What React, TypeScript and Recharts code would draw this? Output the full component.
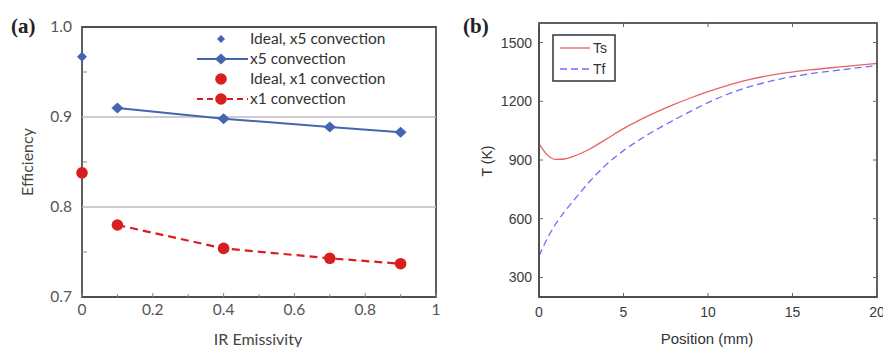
import React from "react";
import {
  ScatterChart,
  Scatter,
  LineChart,
  Line,
  XAxis,
  YAxis,
  ReferenceLine,
  ReferenceArea,
} from "recharts";

// panel (a): efficiency vs IR emissivity
const emissivity = [0.1, 0.4, 0.7, 0.9];
const effX5 = [0.91, 0.898, 0.889, 0.883];
const effX1 = [0.78, 0.754, 0.743, 0.737];
const idealEmissivity = [0];
const idealX5 = [0.967];
const idealX1 = [0.838];
const emissivityTicks = [0, 0.1, 0.2, 0.3, 0.4, 0.5, 0.6, 0.7, 0.8, 0.9, 1];
const emissivityLabels = [0, 0.2, 0.4, 0.6, 0.8, 1];
const efficiencyTicks = [0.7, 0.75, 0.8, 0.85, 0.9, 0.95, 1.0];
const efficiencyLabels = [0.7, 0.8, 0.9, 1.0];
const efficiencyGrid = [0.8, 0.9];

// panel (b): temperature profiles
const position = [0, 0.5, 1, 1.5, 2, 3, 4, 5, 6, 7, 8, 9, 10, 12, 14, 16, 18, 20];
const ts = [982, 925, 903, 905, 917, 956, 1008, 1060, 1106, 1147, 1184, 1218, 1249, 1302, 1337, 1360, 1377, 1393];
const tf = [410, 500, 575, 635, 688, 790, 878, 948, 1006, 1058, 1105, 1150, 1193, 1262, 1309, 1340, 1362, 1382];
const positionTicks = [0, 5, 10, 15, 20];
const tempTicks = [300, 600, 900, 1200, 1500];
const positionRange = [0, 20];
const tempRange = [200, 1600];

const BLUE = "#4466b2";
const RED = "#d81e1e";
const TS_RED = "#e86464";
const TF_BLUE = "#6e6eff";

// panel (b) chart box
const B_LEFT = 440;
const B_W = 443;
const B_H = 347;
const B_MARGIN = { top: 23, right: 6, bottom: 20, left: 0 };
const B_YAXIS_W = 99;
const B_XAXIS_H = 30;

const x5Data = emissivity.map((x, i) => ({ x, y: effX5[i] }));
const x1Data = emissivity.map((x, i) => ({ x, y: effX1[i] }));
const idealX5Data = idealEmissivity.map((x, i) => ({ x, y: idealX5[i] }));
const idealX1Data = idealEmissivity.map((x, i) => ({ x, y: idealX1[i] }));

const profile = position.map((x, i) => ({ x, ts: ts[i], tf: tf[i] }));

const isIn = (list: number[], v: number) => list.some((m) => Math.abs(m - v) < 1e-6);

const diamond = (w: number, h: number, color: string) => (props: any) => {
  const { cx, cy } = props;
  return (
    <polygon
      points={`${cx - w},${cy} ${cx},${cy - h} ${cx + w},${cy} ${cx},${cy + h}`}
      fill={color}
    />
  );
};

const dot = (r: number, color: string) => (props: any) => (
  <circle cx={props.cx} cy={props.cy} r={r} fill={color} />
);

const fontA = "Lato, 'Open Sans', sans-serif";
const fontB = "'Liberation Sans', Arial, sans-serif";

function ATickX({ x, y, payload }: any) {
  const v = payload.value;
  const major = isIn(emissivityLabels, v);
  return (
    <g>
      <line x1={x} x2={x} y1={y} y2={y - (major ? 4 : 3)} stroke="#888" strokeWidth={1} />
      {major && (
        <text x={x} y={y + 18} textAnchor="middle" fontFamily={fontA} fontSize={15.5} fill="#555">
          {v === 0 ? "0" : v === 1 ? "1" : v.toFixed(1)}
        </text>
      )}
    </g>
  );
}

function ATickY({ x, y, payload }: any) {
  const v = payload.value;
  const major = isIn(efficiencyLabels, v);
  return (
    <g>
      {!major && <line x1={x} x2={x + 5} y1={y} y2={y} stroke="#888" strokeWidth={1} />}
      {major && (
        <text x={x - 10} y={y + 5} textAnchor="end" fontFamily={fontA} fontSize={15.5} fill="#555">
          {v.toFixed(1)}
        </text>
      )}
    </g>
  );
}

function BTickX({ x, y, payload }: any) {
  return (
    <g>
      <line x1={x} x2={x} y1={y} y2={y - 4} stroke="#666" />
      <text x={x} y={y + 20} textAnchor="middle" fontFamily={fontB} fontSize={14} fill="#3a3a3a">
        {payload.value}
      </text>
    </g>
  );
}

function BTickY({ x, y, payload }: any) {
  return (
    <g>
      <line x1={x} x2={x + 4} y1={y} y2={y} stroke="#666" />
      <text x={x - 7} y={y + 5} textAnchor="end" fontFamily={fontB} fontSize={14} fill="#3a3a3a">
        {payload.value}
      </text>
    </g>
  );
}

function PanelA() {
  return (
    <ScatterChart width={450} height={347} margin={{ top: 27, right: 14, bottom: 20, left: 0 }}>
      <XAxis
        type="number"
        dataKey="x"
        domain={[0, 1]}
        ticks={emissivityTicks}
        interval={0}
        height={30}
        tickSize={0}
        tickMargin={0}
        tickLine={false}
        axisLine={false}
        tick={(p: any) => <ATickX {...p} />}
      />
      <YAxis
        type="number"
        dataKey="y"
        domain={[0.7, 1.0]}
        ticks={efficiencyTicks}
        interval={0}
        width={82}
        tickSize={0}
        tickMargin={0}
        tickLine={false}
        axisLine={false}
        tick={(p: any) => <ATickY {...p} />}
      />
      {efficiencyGrid.map((g) => (
        <ReferenceLine key={g} y={g} stroke="#bdbdbd" strokeWidth={1.5} />
      ))}
      <ReferenceArea x1={0} x2={1} y1={0.7} y2={1.0} fill="none" stroke="#4f4f4f" strokeWidth={1.8} fillOpacity={0} />
      <Scatter
        data={x1Data}
        fill={RED}
        line={{ stroke: RED, strokeWidth: 2.2, strokeDasharray: "8 5" }}
        lineType="joint"
        shape={dot(5.8, RED)}
        isAnimationActive={false}
      />
      <Scatter
        data={x5Data}
        fill={BLUE}
        line={{ stroke: BLUE, strokeWidth: 2 }}
        lineType="joint"
        shape={diamond(6, 5.5, BLUE)}
        isAnimationActive={false}
      />
      <Scatter data={idealX5Data} fill={BLUE} shape={diamond(5, 5, BLUE)} isAnimationActive={false} />
      <Scatter data={idealX1Data} fill={RED} shape={dot(5.8, RED)} isAnimationActive={false} />
    </ScatterChart>
  );
}

function PanelB() {
  return (
    <LineChart width={B_W} height={B_H} data={profile} margin={B_MARGIN}>
      <XAxis
        type="number"
        dataKey="x"
        domain={positionRange}
        ticks={positionTicks}
        interval={0}
        height={B_XAXIS_H}
        tickSize={0}
        tickMargin={0}
        tickLine={false}
        axisLine={{ stroke: "#4f4f4f", strokeWidth: 1.8 }}
        tick={(p: any) => <BTickX {...p} />}
      />
      <YAxis
        type="number"
        domain={tempRange}
        ticks={tempTicks}
        interval={0}
        width={B_YAXIS_W}
        tickSize={0}
        tickMargin={0}
        tickLine={false}
        axisLine={{ stroke: "#4f4f4f", strokeWidth: 1.8 }}
        tick={(p: any) => <BTickY {...p} />}
      />
      <Line type="monotone" dataKey="tf" stroke={TF_BLUE} strokeWidth={1.3} strokeDasharray="7 4" dot={false} isAnimationActive={false} />
      <Line type="monotone" dataKey="ts" stroke={TS_RED} strokeWidth={1.3} dot={false} isAnimationActive={false} />
    </LineChart>
  );
}

// top/right frame of panel (b), MATLAB style with inward ticks
function FrameB() {
  const left = B_LEFT + B_MARGIN.left + B_YAXIS_W;
  const right = B_LEFT + B_W - B_MARGIN.right;
  const top = B_MARGIN.top;
  const bottom = B_H - B_MARGIN.bottom - B_XAXIS_H;
  const sx = (v: number) => left + ((v - positionRange[0]) / (positionRange[1] - positionRange[0])) * (right - left);
  const sy = (v: number) => bottom - ((v - tempRange[0]) / (tempRange[1] - tempRange[0])) * (bottom - top);
  return (
    <g>
      <rect x={left} y={top} width={right - left} height={bottom - top} fill="none" stroke="#4f4f4f" strokeWidth={1.8} />
      {positionTicks.map((t) => (
        <line key={"t" + t} x1={sx(t)} x2={sx(t)} y1={top} y2={top + 4} stroke="#666" />
      ))}
      {tempTicks.map((t) => (
        <line key={"r" + t} x1={right} x2={right - 4} y1={sy(t)} y2={sy(t)} stroke="#666" />
      ))}
    </g>
  );
}

function Overlay() {
  const legA = [
    { y: 39, label: "Ideal, x5 convection" },
    { y: 59, label: "x5 convection" },
    { y: 79, label: "Ideal, x1 convection" },
    { y: 99, label: "x1 convection" },
  ];
  return (
    <svg width={883} height={347} style={{ position: "absolute", left: 0, top: 0, pointerEvents: "none" }}>
      <FrameB />
      <text x={11} y={33} fontFamily="'Liberation Serif', serif" fontWeight="bold" fontSize={21} fill="#222">
        (a)
      </text>
      <text x={463} y={33} fontFamily="'Liberation Serif', serif" fontWeight="bold" fontSize={21} fill="#222">
        (b)
      </text>
      <text
        transform="translate(33,162) rotate(-90)"
        textAnchor="middle"
        fontFamily={fontA}
        fontSize={16}
        fill="#444"
      >
        Efficiency
      </text>
      <text x={258} y={345} textAnchor="middle" fontFamily={fontA} fontSize={16} fill="#444">
        IR Emissivity
      </text>
      {/* legend (a) */}
      <polygon points="217,39 221,35 225,39 221,43" fill={BLUE} />
      <line x1={197} x2={248} y1={59} y2={59} stroke={BLUE} strokeWidth={2} />
      <polygon points="215,59 221,53.5 227,59 221,64.5" fill={BLUE} />
      <circle cx={221} cy={79} r={5.8} fill={RED} />
      <line x1={197} x2={248} y1={99} y2={99} stroke={RED} strokeWidth={2.2} strokeDasharray="6 4" />
      <circle cx={221} cy={99} r={5.8} fill={RED} />
      {legA.map((l) => (
        <text key={l.label} x={250} y={l.y + 5} fontFamily={fontA} fontSize={15.5} fill="#333">
          {l.label}
        </text>
      ))}
      <text
        transform="translate(492,161) rotate(-90)"
        textAnchor="middle"
        fontFamily={fontB}
        fontSize={14}
        fill="#333"
      >
        T (K)
      </text>
      <text x={707} y={344} textAnchor="middle" fontFamily={fontB} fontSize={15} fill="#333">
        Position (mm)
      </text>
      {/* legend (b) */}
      <rect x={553} y={35} width={62} height={46} fill="#fff" stroke="#333" strokeWidth={1.5} />
      <line x1={560} x2={590} y1={48} y2={48} stroke={TS_RED} strokeWidth={1.3} />
      <line x1={560} x2={590} y1={69} y2={69} stroke={TF_BLUE} strokeWidth={1.3} strokeDasharray="7 4" />
      <text x={593} y={53} fontFamily={fontB} fontSize={14} fill="#333">
        Ts
      </text>
      <text x={593} y={74} fontFamily={fontB} fontSize={14} fill="#333">
        Tf
      </text>
    </svg>
  );
}

export default function App() {
  return (
    <div style={{ position: "absolute", left: 0, top: 0, width: 883, height: 347, background: "#fff", overflow: "hidden" }}>
      <div style={{ position: "absolute", left: 0, top: 0 }}>
        <PanelA />
      </div>
      <div style={{ position: "absolute", left: B_LEFT, top: 0 }}>
        <PanelB />
      </div>
      <Overlay />
    </div>
  );
}
